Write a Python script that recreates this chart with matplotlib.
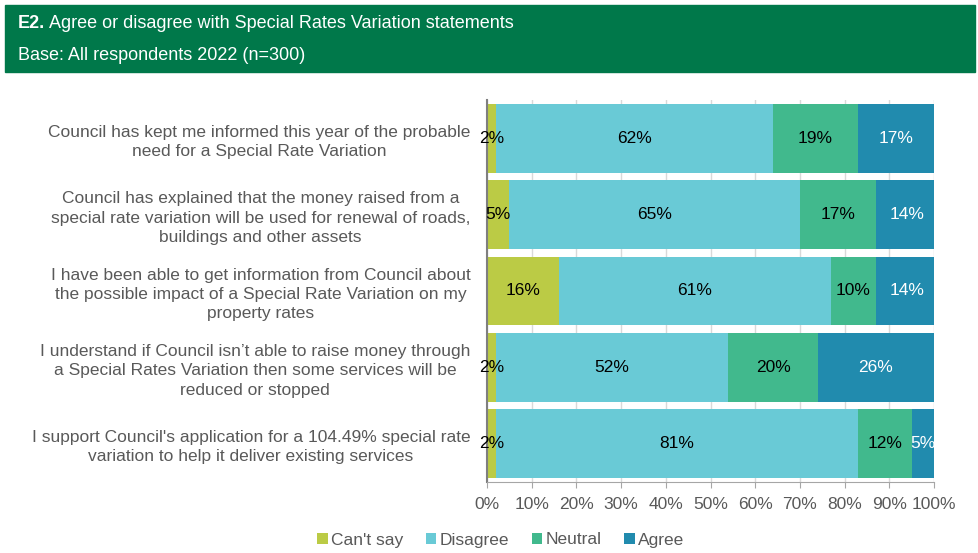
import matplotlib.pyplot as plt
from matplotlib.patches import Rectangle
import numpy as np

statements = [
    "Council has kept me informed this year of the probable\nneed for a Special Rate Variation",
    "Council has explained that the money raised from a\nspecial rate variation will be used for renewal of roads,\nbuildings and other assets",
    "I have been able to get information from Council about\nthe possible impact of a Special Rate Variation on my\nproperty rates",
    "I understand if Council isn\u2019t able to raise money through\na Special Rates Variation then some services will be\nreduced or stopped",
    "I support Council's application for a 104.49% special rate\nvariation to help it deliver existing services",
]
series = ["Can't say", "Disagree", "Neutral", "Agree"]
cant_say = [2, 5, 16, 2, 2]
disagree = [62, 65, 61, 52, 81]
neutral = [19, 17, 10, 20, 12]
agree = [17, 14, 14, 26, 5]

colors = ["#BBCB45", "#69CAD6", "#41B98D", "#218BAE"]
label_colors = ["black", "black", "black", "white"]

plt.rcParams['font.family'] = ['Liberation Sans', 'DejaVu Sans']

fig = plt.figure(figsize=(9.79, 5.53), dpi=100)

# green header band
fig.patches.append(Rectangle((5 / 979, 1 - 72 / 553), 970 / 979, 67 / 553,
                             transform=fig.transFigure, color="#00784A", zorder=0))
fig.text(18 / 979, 1 - 24 / 553, "E2.", color="white", fontsize=13,
         fontweight="bold", va="center")
fig.text(49 / 979, 1 - 24 / 553, "Agree or disagree with Special Rates Variation statements",
         color="white", fontsize=13, va="center")
fig.text(18 / 979, 1 - 55 / 553, "Base: All respondents 2022 (n=300)",
         color="white", fontsize=13, va="center")

ax = fig.add_axes([487 / 979, 1 - 482 / 553, 447 / 979, 382 / 553])

data = [cant_say, disagree, neutral, agree]
y = np.arange(len(statements))
left = np.zeros(len(statements))
for vals, name, c, lc in zip(data, series, colors, label_colors):
    vals = np.array(vals)
    ax.barh(y, vals, left=left, height=0.9, color=c, label=name, zorder=2)
    for yi, v, l in zip(y, vals, left):
        ax.text(l + v / 2, yi, f"{v}%", ha="center", va="center",
                color=lc, fontsize=12.5, zorder=3)
    left = left + vals

ax.set_xlim(0, 100)
ax.set_ylim(len(statements) - 0.5, -0.5)
ax.set_xticks(np.arange(0, 101, 10))
ax.set_xticklabels([f"{t}%" for t in range(0, 101, 10)], color="#595959", fontsize=12.5)
ax.set_yticks(y)
ax.set_yticklabels(statements, color="#595959", fontsize=12.5, ha="right",
                   multialignment="center", linespacing=1.35)
ax.tick_params(axis="y", length=0, pad=12)
ax.tick_params(axis="x", length=4, color="#A6A6A6", pad=7)
ax.grid(axis="x", color="#D9D9D9", linewidth=1, zorder=0)
ax.set_axisbelow(True)
for s in ["top", "right"]:
    ax.spines[s].set_visible(False)
ax.spines["left"].set_color("#7F7F7F")
ax.spines["left"].set_linewidth(1.5)
ax.spines["bottom"].set_color("#A6A6A6")

fig.legend(loc="center", bbox_to_anchor=(501 / 979, 1 - 540 / 553), ncol=4,
           frameon=False, fontsize=12.5, handlelength=0.6, handleheight=0.6,
           handletextpad=0.2, columnspacing=1.3, labelcolor="#595959")

fig.savefig("out.png", dpi=100)
